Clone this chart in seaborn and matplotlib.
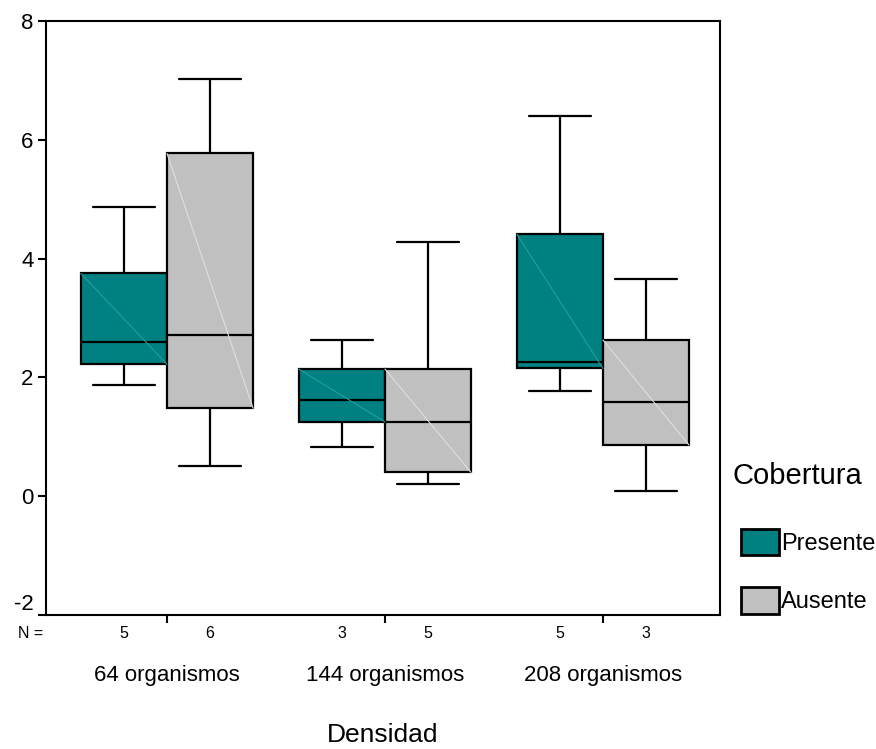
import matplotlib.pyplot as plt
import matplotlib as mpl
from matplotlib.patches import PathPatch
import seaborn as sns
import pandas as pd

# five-number summaries (min, Q1, median, Q3, max)
grupos = ['64 organismos', '144 organismos', '208 organismos']
cobertura = ['Presente', 'Ausente']
n_casos = [5, 6, 3, 5, 5, 3]

presente = [[1.87, 2.22, 2.59, 3.75, 4.87],
            [0.82, 1.25, 1.62, 2.14, 2.63],
            [1.77, 2.15, 2.26, 4.41, 6.40]]
ausente = [[0.51, 1.48, 2.71, 5.77, 7.02],
           [0.20, 0.40, 1.25, 2.14, 4.28],
           [0.08, 0.86, 1.58, 2.63, 3.65]]

rows = []
for g, p, a in zip(grupos, presente, ausente):
    for v in p:
        rows.append((g, 'Presente', v))
    for v in a:
        rows.append((g, 'Ausente', v))
df = pd.DataFrame(rows, columns=['Densidad', 'Cobertura', 'valor'])

sns.set_theme(style="white")
plt.rcParams['font.family'] = ['Liberation Sans', 'DejaVu Sans']
plt.rcParams.update({'axes.unicode_minus': False, 'text.color': 'black',
                     'axes.labelcolor': 'black', 'xtick.color': 'black',
                     'ytick.color': 'black'})

fig = plt.figure(figsize=(8.76, 7.49), dpi=100)
ax = fig.add_axes([46/876, 1-615/749, (720-46)/876, (615-21)/749])

sns.boxplot(data=df, x='Densidad', y='valor', hue='Cobertura', order=grupos,
            hue_order=cobertura, whis=(0, 100), width=0.79, gap=0,
            palette={'Presente': '#008080', 'Ausente': '#c0c0c0'},
            saturation=1, linecolor='black', linewidth=1.6, fliersize=0, ax=ax)

# widen whisker caps (SPSS style)
box_w = 0.79 / 2
for ln in ax.lines:
    xs, ys = ln.get_xdata(), ln.get_ydata()
    if len(xs) == 2 and ys[0] == ys[1]:
        w = abs(xs[1] - xs[0])
        if 0 < w < 0.8 * box_w:
            c = (xs[0] + xs[1]) / 2
            ln.set_xdata([c - 0.36 * box_w, c + 0.36 * box_w])

# faint diagonal across each box, and N counts below
centers = []
for p in list(ax.patches):
    if not isinstance(p, PathPatch):
        continue
    ext = p.get_path().get_extents()
    x0, x1, y0, y1 = ext.x0, ext.x1, ext.y0, ext.y1
    fc = p.get_facecolor()
    light = tuple(min(1, c + 0.12) for c in fc[:3])
    ax.plot([x0, x1], [y1, y0], color=light, lw=0.8, zorder=p.get_zorder() + 0.1)
    centers.append((x0 + x1) / 2)
centers = sorted(centers)

ax.set_ylim(-2, 8)
ax.set_xlim(-0.555, 2.537)
ax.set_yticks([-2, 0, 2, 4, 6, 8])
ax.tick_params(axis='y', labelsize=16, length=6, width=1.5, direction='out', left=True, pad=3)
ax.tick_params(axis='x', labelsize=16, length=6, width=1.5, direction='out', bottom=True, pad=30)
ax.set_xticks([0, 1, 2])
ax.set_xticklabels(grupos)
ax.get_yticklabels()[0].set_va('bottom')
ax.set_ylabel('')
ax.set_xlabel('Densidad', fontsize=19, labelpad=27)
for s in ax.spines.values():
    s.set_color('black')
    s.set_linewidth(1.5)

trans = mpl.transforms.blended_transform_factory(ax.transData, fig.transFigure)
for c, n in zip(centers, n_casos):
    ax.text(c, 1-633/749, str(n), transform=trans, ha='center', va='center', fontsize=11.5)
fig.text(31/876, 1-633/749, 'N =', ha='center', va='center', fontsize=11.5)

fig.text(732/876, 1-476/749, 'Cobertura', ha='left', va='center', fontsize=21)
leg = ax.legend(loc='upper left', bbox_to_anchor=((741-46)/674, 0.145),
                frameon=False, fontsize=17, handlelength=1.6,
                handleheight=1.35, handletextpad=0.1, labelspacing=1.35, borderaxespad=0,
                borderpad=0)
for h in leg.legend_handles:
    h.set_edgecolor('black')
    h.set_linewidth(2)

plt.savefig('out.png', dpi=100)
